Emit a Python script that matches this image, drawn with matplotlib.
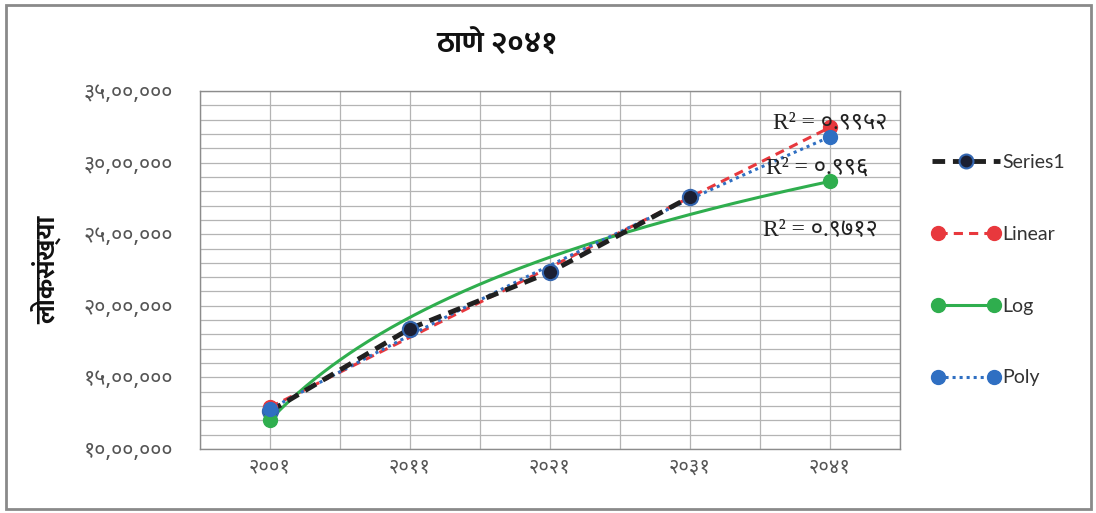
import matplotlib
matplotlib.use("Agg")
import matplotlib.pyplot as plt
import numpy as np
from matplotlib import font_manager
from matplotlib.lines import Line2D
from matplotlib.patches import Rectangle
from matplotlib.legend_handler import HandlerLine2D
from matplotlib.ticker import FixedLocator, MultipleLocator, FuncFormatter

# census years and population (Thane)
years = [2001, 2011, 2021, 2031, 2041]
population = [1263000, 1841000, 2235000, 2760000]
r2_labels = ["R² = ०.९९५२", "R² = ०.९९६", "R² = ०.९७१२"]

DEVA_DIGITS = str.maketrans("0123456789", "०१२३४५६७८९")


def first_installed(names, default="DejaVu Sans", bold=False):
    fonts = font_manager.fontManager.ttflist
    for n in names:
        weights = [f.weight for f in fonts if f.name == n]
        if not weights:
            continue
        if bold and not any(isinstance(w, int) and w >= 600 for w in weights):
            continue
        return n
    return default


deva_names = ["Noto Sans Devanagari", "Mukta", "Hind", "Biryani", "Anek Devanagari"]
deva = first_installed(deva_names)
deva_bold = first_installed(["Mukta", "Hind", "Noto Sans Devanagari", "Biryani"], bold=True)
latin = first_installed(["Lato", "Open Sans"])
serif = first_installed(["Liberation Serif", "DejaVu Serif"])


def indian_grouping(value, pos=None):
    s = str(int(round(value)))
    head, tail = s[:-3], s[-3:]
    groups = []
    while len(head) > 2:
        groups.insert(0, head[-2:])
        head = head[:-2]
    if head:
        groups.insert(0, head)
    return ",".join(groups + [tail]).translate(DEVA_DIGITS)


# trendlines fitted on x = 1..n like a spreadsheet does
xs = np.arange(1, len(population) + 1)
lin = np.polyfit(xs, population, 1)
logc = np.polyfit(np.log(xs), population, 1)
quad = np.polyfit(xs, population, 2)
xf = np.linspace(1, len(years), 200)
lin_y = np.polyval(lin, xf)
log_y = np.polyval(logc, np.log(xf))
quad_y = np.polyval(quad, xf)
ends = np.array([1, len(years)])

RED = "#e8383d"
GREEN = "#2fae4e"
BLUE = "#2f6fc2"
BLACK = "#202020"

fig = plt.figure(figsize=(10.96, 5.13), dpi=100)
W, H = 1096, 513
ax = fig.add_axes([200 / W, 1 - 449 / H, 700 / W, 358 / H])

# outer chart frame
fig.patches.append(Rectangle((6 / W, 4 / H), 1085 / W, 504 / H, transform=fig.transFigure,
                             fill=False, edgecolor="#8a8a8a", lw=2.0))

pos = np.arange(len(years))
ax.plot(xf - 1, lin_y, color=RED, lw=2.2, ls=(0, (3, 2)), zorder=3)
ax.plot(xf - 1, log_y, color=GREEN, lw=2.2, zorder=3)
ax.plot(xf - 1, quad_y, color=BLUE, lw=2.2, ls=(0, (1, 1.3)), zorder=3)
ax.plot(pos[:len(population)], population, color=BLACK, lw=3.5, ls=(0, (2.6, 1.6)),
        marker="o", ms=11, mfc="#1b1f33", mec="#3466b0", mew=1.5, zorder=4)
ax.plot(ends - 1, np.polyval(lin, ends), "o", color=RED, ms=10, zorder=5)
ax.plot(ends - 1, np.polyval(logc, np.log(ends)), "o", color=GREEN, ms=10, zorder=5)
ax.plot(ends - 1, np.polyval(quad, ends), "o", color=BLUE, ms=10, zorder=6)

ax.set_xlim(-0.5, len(years) - 0.5)
ax.set_ylim(1000000, 3500000)
ax.xaxis.set_major_locator(FixedLocator(pos))
ax.xaxis.set_minor_locator(FixedLocator(np.arange(-0.5, len(years), 1.0)))
ax.set_xticklabels([str(y).translate(DEVA_DIGITS) for y in years],
                   fontfamily=deva, fontsize=14.5, color="#555555")
ax.yaxis.set_major_locator(MultipleLocator(500000))
ax.yaxis.set_minor_locator(MultipleLocator(100000))
ax.yaxis.set_major_formatter(FuncFormatter(indian_grouping))
for lab in ax.get_yticklabels():
    lab.set_fontfamily(deva)
ax.tick_params(axis="y", which="both", length=0, pad=19.5, labelsize=15.5, labelcolor="#555555")
ax.tick_params(axis="x", which="both", length=0, pad=6)
ax.grid(True, which="both", color="#b4b4b4", lw=0.9)
ax.set_axisbelow(True)
for sp in ax.spines.values():
    sp.set_color("#8c8c8c")
    sp.set_linewidth(1.0)

fig.text(497 / W, 1 - 45 / H, "ठाणे २०४१", fontfamily=deva_bold, fontweight="bold",
         fontsize=21.5, ha="center", va="center", color="#111111")
fig.text(46 / W, 1 - 270 / H, "लोकसंख्या", fontfamily=deva_bold, fontweight="bold",
         fontsize=19, rotation=90, ha="center", va="center", color="#111111")

r2_pos = [(4.0, 3280000), (3.91, 2960000), (3.93, 2535000)]
for (x, y), s in zip(r2_pos, r2_labels):
    ax.text(x, y, s, family=[serif, deva], fontsize=17, ha="center", va="center",
            color="#222222", zorder=7)

h_series = Line2D([], [], color=BLACK, lw=3.5, ls=(0, (2.6, 1.6)), marker="o", ms=10,
                  mfc="#1b1f33", mec="#3466b0", mew=1.5)
h_lin = Line2D([], [], color=RED, lw=2.2, ls=(0, (3, 2)), marker="o", ms=10)
h_log = Line2D([], [], color=GREEN, lw=2.2, marker="o", ms=10)
h_poly = Line2D([], [], color=BLUE, lw=2.2, ls=(0, (1, 1.3)), marker="o", ms=10)
leg = fig.legend([h_series, h_lin, h_log, h_poly], ["Series1", "Linear", "Log", "Poly"],
                 loc="upper left", bbox_to_anchor=(932 / W, 1 - 154 / H),
                 frameon=False, numpoints=2, handlelength=3.5, handletextpad=0.12,
                 labelspacing=2.82, borderpad=0, borderaxespad=0,
                 prop={"family": latin, "size": 14},
                 handler_map={h_series: HandlerLine2D(numpoints=1)})
for t in leg.get_texts():
    t.set_color("#333333")

fig.savefig("out.png", dpi=100)
